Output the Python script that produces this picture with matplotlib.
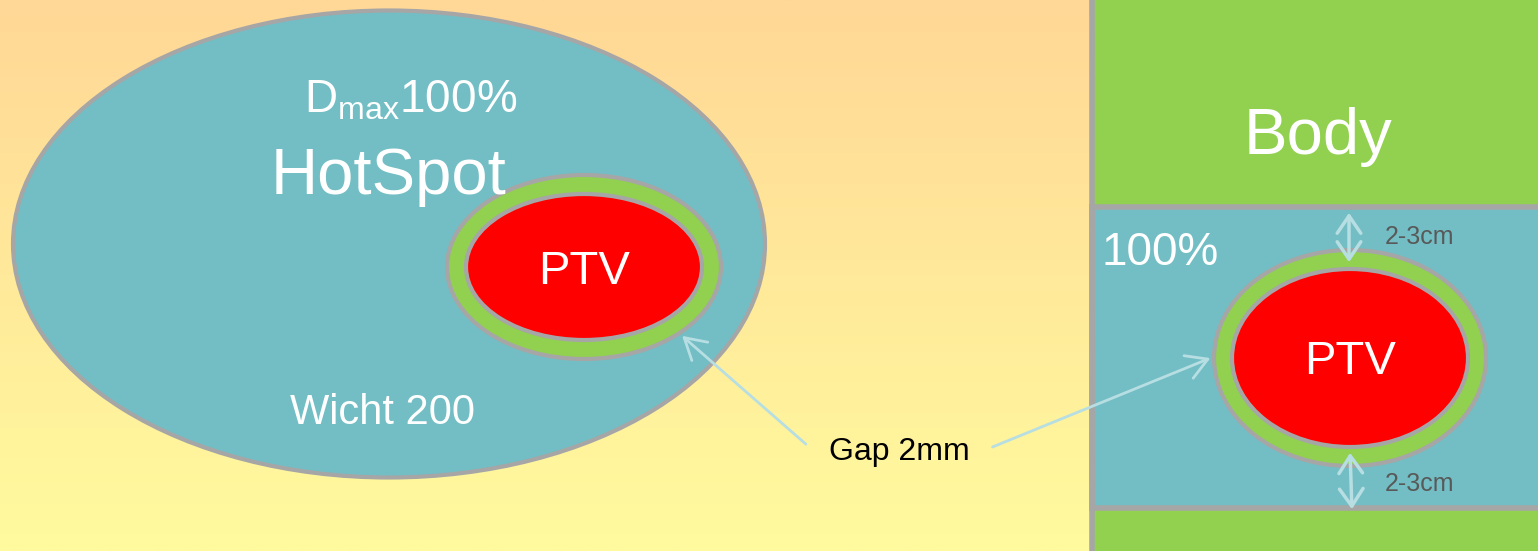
import matplotlib
matplotlib.use('Agg')
import matplotlib.pyplot as plt
import numpy as np
from matplotlib.patches import Ellipse, Rectangle
from matplotlib.colors import LinearSegmentedColormap

plt.rcParams['font.family'] = ['Liberation Sans', 'DejaVu Sans']

# Farben
teal = '#72BEC4'
green = '#92D050'
red = '#FF0000'
grey = '#A6A6A6'
arrow_col = '#B7DEE2'

# Linkes Bild: Hotspot-Ellipse, Ring, PTV  (Mitte x, Mitte y, Breite, Hoehe)
hotspot = [389, 244, 752, 467]
ring_left = [584, 267, 274, 184]
ptv_left = [584, 267, 236, 146]

# Rechtes Bild: Koerper-Streifen und PTV
body_x = 1092
band_top = 207
band_bottom = 508
ring_right = [1350, 358, 272, 216]
ptv_right = [1350, 358, 236, 178]

labels = {
    'dmax': (411, 101, r'D$_{\mathregular{max}}$100%', 33),
    'hotspot': (389, 177, 'HotSpot', 47),
    'wicht': (383, 413, 'Wicht 200', 30),
    'ptv_l': (584, 272, 'PTV', 34),
    'ptv_r': (1350, 362, 'PTV', 34),
    'body': (1318, 137, 'Body', 47),
    'pct': (1160, 253, '100%', 33),
}

fig = plt.figure(figsize=(15.38, 5.51), dpi=100)
ax = fig.add_axes([0, 0, 1, 1])
ax.set_xlim(0, 1538)
ax.set_ylim(551, 0)
ax.axis('off')

# Hintergrund Verlauf
bg = LinearSegmentedColormap.from_list('bg', ['#FFD796', '#FFFB9E'])
grad = np.linspace(0, 1, 256).reshape(-1, 1)
ax.imshow(grad, cmap=bg, extent=[0, 1538, 551, 0], aspect='auto', zorder=0)

def ell(p, fc, lw, z):
    ax.add_patch(Ellipse((p[0], p[1]), p[2], p[3], facecolor=fc,
                         edgecolor=grey, linewidth=lw, zorder=z))

ell(hotspot, teal, 3, 1)
ell(ring_left, green, 3, 2)
ell(ptv_left, red, 3, 3)

# rechtes Bild
ax.add_patch(Rectangle((body_x, 0), 1538 - body_x, 551, facecolor=green,
                       edgecolor='none', zorder=1))
ax.add_patch(Rectangle((body_x, band_top), 1545 - body_x, band_bottom - band_top,
                       facecolor=teal, edgecolor=grey, linewidth=4, zorder=1))
ax.plot([body_x, body_x], [0, 551], color=grey, lw=4, zorder=1.5)
ell(ring_right, green, 3, 2)
ell(ptv_right, red, 3, 3)

for key, (x, y, s, fs) in labels.items():
    ax.text(x, y, s, color='white', fontsize=fs, ha='center', va='center', zorder=5)

# Abstandspfeile
dbl = dict(arrowstyle='<->,head_length=0.5,head_width=0.34', color=arrow_col,
           lw=2.5, mutation_scale=25)
ax.annotate('', xy=(1349, 265), xytext=(1349, 210), arrowprops=dbl, zorder=6)
ax.annotate('', xy=(1352, 512), xytext=(1350, 450), arrowprops=dbl, zorder=6)
ax.text(1385, 237, '2-3cm', color='#595959', fontsize=18, ha='left', va='center', zorder=6)
ax.text(1385, 484, '2-3cm', color='#595959', fontsize=18, ha='left', va='center', zorder=6)

# Gap
ax.text(829, 452, 'Gap 2mm', color='black', fontsize=23, ha='left', va='center', zorder=6)
sgl = dict(arrowstyle='->,head_length=0.6,head_width=0.35', color=arrow_col,
           lw=2, mutation_scale=25)
ax.annotate('', xy=(680, 334), xytext=(808, 446), arrowprops=sgl, zorder=6)
ax.annotate('', xy=(1213, 357), xytext=(990, 448), arrowprops=sgl, zorder=6)

fig.savefig('out.png', dpi=100)
